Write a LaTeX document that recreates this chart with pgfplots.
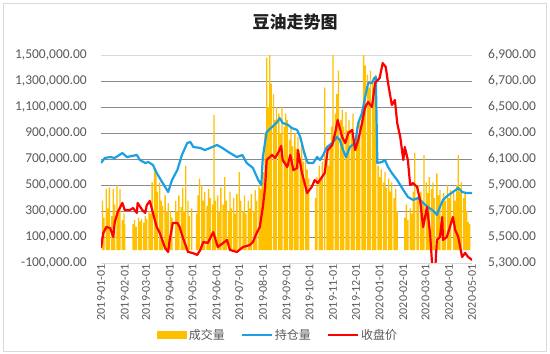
\documentclass[border=0pt]{standalone}
\usepackage{pgfplots}
\pgfplotsset{compat=1.18}
\usepackage{fontspec}
\setmainfont{Carlito}
\newfontfamily\cjk{Noto Sans CJK SC}
\definecolor{barY}{HTML}{FFC000}
\definecolor{lineB}{HTML}{1BA1E2}
\definecolor{lineR}{HTML}{FF0000}
\definecolor{txt}{HTML}{595959}
\definecolor{gridD}{HTML}{8A8A8A}
\definecolor{gridL}{HTML}{D9D9D9}

\pgfplotstableread{
d v
2 380000
4 250000
7 470000
9 320000
11 480000
14 260000
16 470000
18 350000
21 500000
23 300000
25 470000
28 230000
30 280000
31 200000
42 200000
44 230000
46 180000
49 250000
51 220000
53 240000
56 210000
58 260000
60 240000
63 300000
65 280000
67 520000
70 630000
72 600000
74 450000
77 520000
79 380000
81 340000
84 420000
86 300000
88 360000
91 300000
93 250000
98 380000
100 300000
102 420000
105 330000
107 480000
109 300000
111 650000
114 380000
116 260000
119 320000
125 280000
127 420000
129 550000
132 500000
134 380000
136 450000
139 340000
141 470000
143 400000
146 350000
148 1040000
150 380000
153 420000
155 300000
157 480000
160 350000
162 560000
164 380000
167 300000
169 450000
171 320000
174 400000
176 280000
178 430000
181 600000
183 380000
186 300000
188 420000
190 280000
193 380000
195 320000
197 430000
200 300000
202 460000
204 380000
207 500000
209 470000
211 520000
213 600000
215 900000
217 1480000
219 1100000
221 1500000
223 1280000
226 1200000
228 1000000
230 1100000
233 1050000
235 900000
237 1100000
240 950000
242 1050000
244 1000000
247 850000
249 950000
251 800000
254 900000
256 780000
258 870000
261 700000
263 820000
265 680000
268 750000
270 620000
272 550000
281 400000
283 560000
286 650000
288 550000
290 680000
293 1250000
296 700000
298 650000
300 800000
302 950000
304 1500000
307 1050000
309 1200000
311 1380000
314 1000000
316 1080000
318 950000
321 1060000
323 920000
325 1000000
328 900000
330 1050000
332 850000
335 950000
337 880000
339 1000000
342 1100000
344 1500000
346 1420000
349 1350000
351 1250000
353 1380000
356 1300000
358 1240000
360 1350000
363 650000
365 560000
367 620000
370 520000
372 600000
374 480000
377 550000
379 450000
381 520000
384 400000
386 470000
388 300000
398 250000
400 350000
402 230000
405 320000
407 280000
409 450000
411 750000
414 400000
416 500000
419 450000
421 380000
423 730000
426 520000
428 440000
430 560000
433 470000
435 520000
437 400000
440 590000
442 420000
444 460000
447 360000
449 440000
451 380000
454 500000
456 400000
458 460000
462 440000
464 380000
466 500000
468 730000
470 450000
472 520000
475 400000
477 430000
479 300000
481 215000
483 200000
}\volume

\pgfplotstableread{
d v
0 669000
5 708000
12 715000
18 708000
28 746000
34 715000
47 731000
51 692000
58 669000
62 677000
68 654000
73 592000
80 523000
84 485000
88 446000
93 538000
100 615000
106 731000
113 823000
117 831000
121 792000
130 785000
136 769000
143 785000
152 808000
159 785000
169 746000
178 715000
185 731000
191 669000
199 631000
206 538000
210 500000
212 715000
217 908000
224 946000
231 985000
234 1015000
238 977000
245 962000
250 938000
257 923000
261 869000
267 731000
271 669000
278 669000
283 715000
287 692000
291 731000
296 792000
303 823000
309 869000
313 846000
317 769000
321 715000
326 792000
333 823000
337 977000
342 1054000
346 1177000
350 1285000
355 1285000
358 1323000
360 1331000
362 669000
368 677000
372 692000
376 638000
381 592000
388 538000
396 462000
402 408000
409 385000
415 400000
422 362000
428 331000
434 308000
438 285000
440 269000
444 331000
448 385000
455 423000
461 446000
468 477000
473 446000
479 438000
486 438000
}\openint

\pgfplotstableread{
d p
0 5415
3 5531
7 5577
12 5569
16 5500
18 5615
22 5692
28 5762
31 5708
38 5708
42 5723
47 5685
48 5762
54 5708
58 5685
60 5746
64 5777
68 5685
73 5577
77 5531
84 5415
88 5385
90 5477
94 5608
100 5608
103 5577
107 5500
114 5385
120 5377
126 5362
130 5400
134 5462
140 5454
147 5538
153 5423
160 5454
165 5477
169 5400
178 5385
186 5423
195 5438
199 5462
204 5531
208 5577
212 5731
215 5885
217 6092
224 6131
228 6108
232 6146
236 6200
238 6092
244 6038
248 6131
252 6015
257 6031
258 6169
263 6000
270 5838
276 5885
280 5938
284 5915
293 5992
297 6169
303 6208
307 6308
310 6400
316 6269
320 6223
324 6300
329 6323
333 6169
337 6246
342 6377
346 6500
350 6538
355 6500
359 6685
365 6723
369 6838
373 6808
376 6685
381 6515
385 6554
388 6377
392 6269
396 6092
398 6192
402 6092
405 5900
409 5915
414 5885
418 5785
422 5577
427 5731
431 5531
434 5270
438 5270
440 5477
444 5500
447 5654
448 5477
453 5500
457 5577
461 5654
464 5554
468 5500
473 5346
477 5377
481 5346
486 5323
}\price

\begin{document}
\begin{tikzpicture}[x=1pt,y=1pt]
\path[use as bounding box] (0,0) rectangle (550,354);
\draw[gridL, line width=0.8pt] (3,3) rectangle (546,351);
\node[font=\cjk\bfseries\fontsize{17}{20}\selectfont, text=black!88] at (295,332) {豆油走势图};

\begin{axis}[
  at={(101pt,91pt)}, anchor=south west, scale only axis,
  width=371pt, height=208pt,
  xmin=0, xmax=486, ymin=-100000, ymax=1500000,
  scaled y ticks=false, scaled x ticks=false,
  axis x line*=bottom, axis y line*=left,
  x axis line style={gridL, line width=0.8pt},
  y axis line style={draw=none},
  major tick length=0pt,
  xtick={0,31,59,90,120,151,181,212,243,273,304,334,365,396,425,456,486},
  xticklabels={2019-01-01,2019-02-01,2019-03-01,2019-04-01,2019-05-01,2019-06-01,2019-07-01,2019-08-01,2019-09-01,2019-10-01,2019-11-01,2019-12-01,2020-01-01,2020-02-01,2020-03-01,2020-04-01,2020-05-01},
  xticklabel style={rotate=90, anchor=east, inner sep=1pt, font=\fontsize{12}{13}\selectfont, text=txt},
  ytick={100000,300000,500000,700000,900000,1100000,1300000},
  yticklabels={{100,000.00},{300,000.00},{500,000.00},{700,000.00},{900,000.00},{1,100,000.00},{1,300,000.00}},
  extra y ticks={-100000,1500000},
  extra y tick labels={{-100,000.00},{1,500,000.00}},
  extra y tick style={grid=none},
  yticklabel style={font=\fontsize{13.5}{15}\selectfont, text=txt, inner sep=0pt, xshift=-14pt},
  ymajorgrids, major grid style={gridD, line width=0.8pt},
  clip=true,
]
\draw[gridL, line width=0.8pt] (axis description cs:0,1) -- (axis description cs:1,1);
\addplot[ybar, bar width=1.3pt, fill=barY, draw=none] table[x=d, y=v] {\volume};
\addplot[lineB, line width=2.2pt, line join=round, no markers] table[x=d, y=v] {\openint};
\end{axis}

\begin{axis}[
  at={(101pt,91pt)}, anchor=south west, scale only axis,
  width=371pt, height=208pt,
  xmin=0, xmax=486, ymin=5300, ymax=6900,
  scaled y ticks=false,
  axis x line=none, axis y line*=right,
  y axis line style={draw=none},
  major tick length=0pt,
  ytick={5300,5500,5700,5900,6100,6300,6500,6700,6900},
  yticklabels={{5,300.00},{5,500.00},{5,700.00},{5,900.00},{6,100.00},{6,300.00},{6,500.00},{6,700.00},{6,900.00}},
  yticklabel style={font=\fontsize{13.5}{15}\selectfont, text=txt, inner sep=0pt, xshift=16pt},
  legend columns=3,
  legend style={at={(0.477,-0.346)}, anchor=center, draw=none, fill=none,
    font=\cjk\fontsize{12}{14}\selectfont, text=txt, inner sep=0pt,
    /tikz/every even column/.append style={column sep=14pt}},
  legend cell align=left,
]
\addlegendimage{fill=barY, draw=none, legend image code/.code={\fill[barY] (0pt,-4pt) rectangle (30pt,4pt);}}
\addlegendentry{成交量}
\addlegendimage{lineB, line width=2.2pt, legend image code/.code={\draw (0pt,0pt) -- (30pt,0pt);}}
\addlegendentry{持仓量}
\addplot[lineR, line width=2.2pt, line join=round, no markers, legend image code/.code={\draw (0pt,0pt) -- (30pt,0pt);}] table[x=d, y=p] {\price};
\addlegendentry{收盘价}
\end{axis}
\end{tikzpicture}
\end{document}
